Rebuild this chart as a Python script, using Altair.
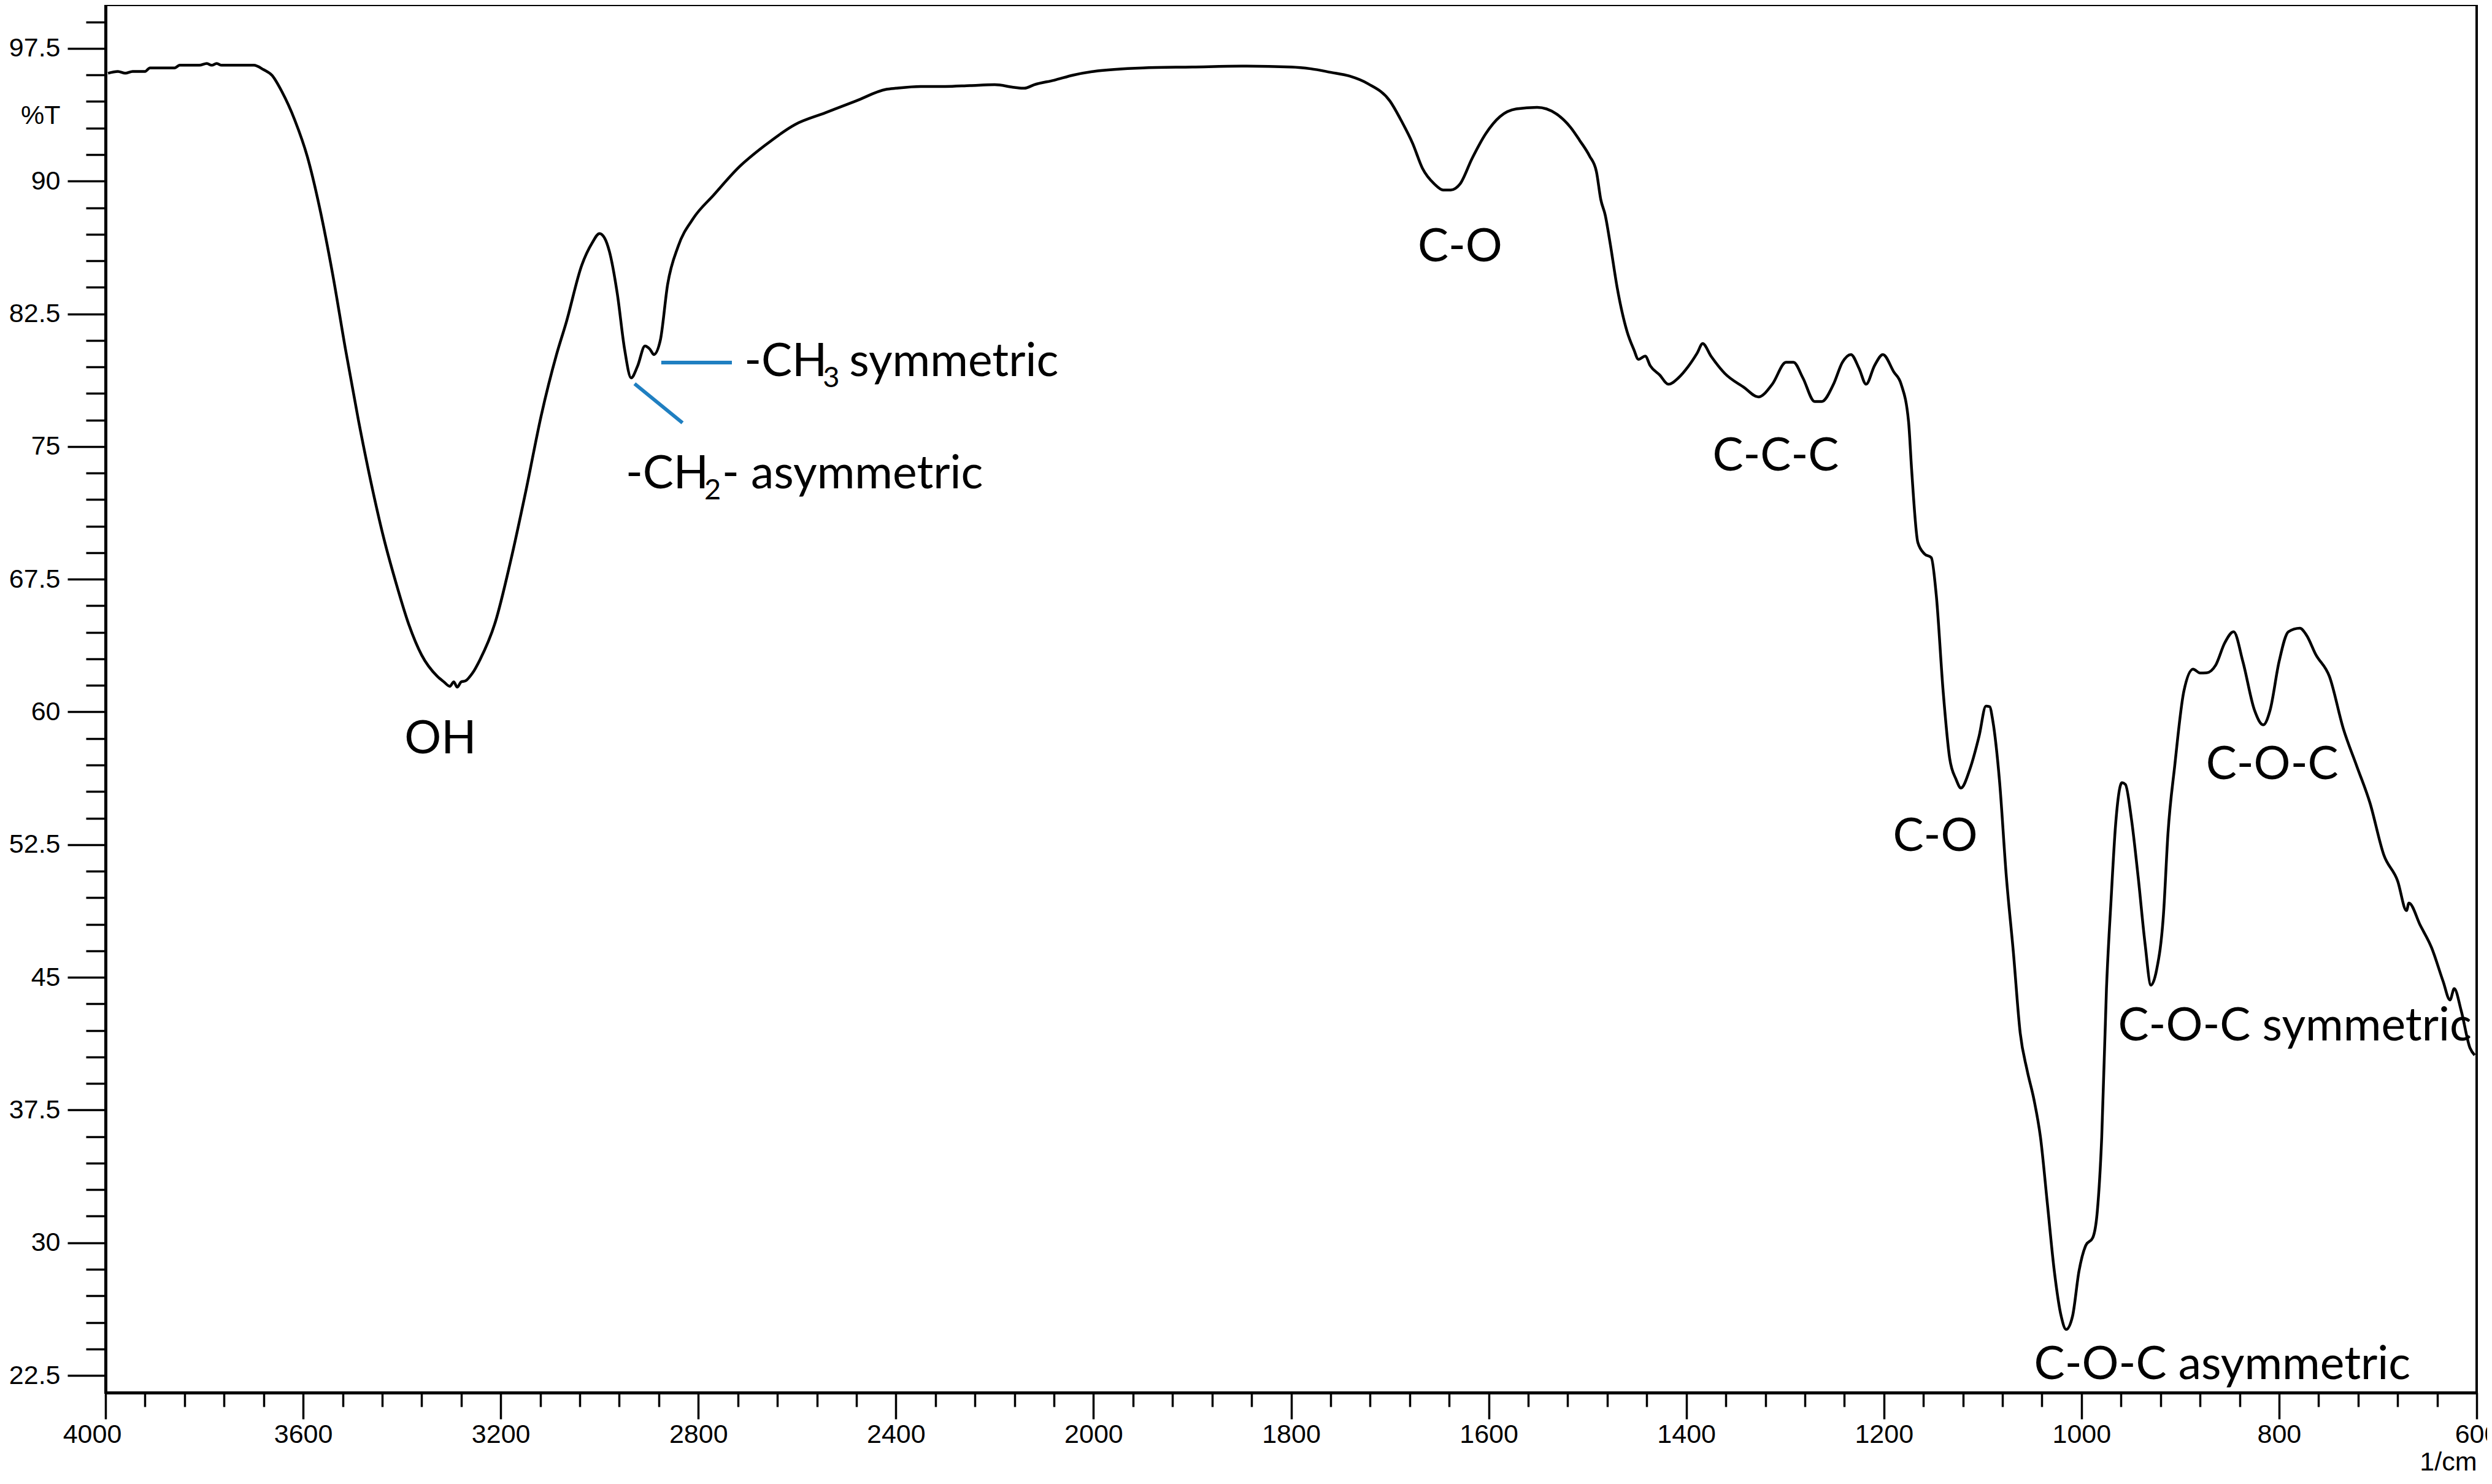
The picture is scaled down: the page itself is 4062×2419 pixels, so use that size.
import altair as alt
import pandas as pd

# ---------------- data ----------------
wavenumber = [
    3995, 3975, 3960, 3945, 3920, 3910, 3860, 3850, 3810, 3795, 3785, 3775, 3765, 3700, 3680,
    3663, 3643, 3617, 3591, 3566, 3540, 3514, 3488, 3463, 3437, 3411, 3386, 3360, 3329, 3315,
    3303, 3295, 3288, 3280, 3272, 3257, 3242, 3211, 3180, 3149, 3118, 3087, 3067, 3036, 3015,
    3000, 2990, 2980, 2964, 2949, 2936, 2923, 2908, 2898, 2890, 2877, 2862, 2841, 2810, 2769,
    2717, 2666, 2604, 2543, 2481, 2419, 2400, 2350, 2300, 2250, 2200, 2160, 2140, 2120, 2080,
    2040, 2000, 1950, 1900, 1850, 1800, 1780, 1760, 1741, 1722, 1700, 1688, 1677, 1667, 1655,
    1646, 1638.5, 1629, 1617, 1603, 1588.5, 1572, 1551, 1532, 1517, 1508, 1498, 1491, 1486.5, 1482,
    1477, 1470, 1460, 1453, 1448.5, 1441.5, 1436.5, 1427, 1418, 1408, 1398.5, 1389, 1383.4, 1375, 1361,
    1341.5, 1327, 1313, 1299, 1291.5, 1282, 1270, 1263, 1251, 1242, 1233.4, 1225, 1218, 1209.5, 1201,
    1190, 1182.5, 1175, 1172, 1165.6, 1159, 1152, 1147, 1140, 1133.4, 1127, 1122, 1113, 1103.6, 1096.7,
    1093, 1089.7, 1083, 1076, 1069, 1062, 1055, 1048, 1041.5, 1034.5, 1027.5, 1020.6, 1015.5, 1009, 1002.5,
    995.6, 988.6, 984, 979.5, 974.7, 970, 965.5, 959, 955.5, 949.6, 942.6, 935.6, 929.7, 924, 917,
    912.4, 905.6, 896.4, 887, 880, 873.4, 864.3, 855, 846, 836.6, 825, 816, 809, 800, 790.6,
    779, 772, 763, 749, 735, 721.5, 708, 694, 680, 671, 668.6, 657, 645.6, 634, 627,
    622.7, 615.6, 606.7, 602,
]
transmittance = [
    96.1, 96.2, 96.1, 96.2, 96.2, 96.4, 96.4, 96.55, 96.55, 96.65, 96.55, 96.65, 96.55, 96.55, 96.3,
    95.98, 95.06, 93.46, 91.34, 88.42, 84.71, 80.46, 76.48, 73.03, 69.85, 67.2, 64.94, 63.21, 62.03, 61.7,
    61.45, 61.7, 61.4, 61.7, 61.75, 62.2, 62.95, 65.07, 68.52, 72.5, 76.75, 80.2, 82.05, 85.24, 86.5,
    87.04, 86.8, 86.03, 83.64, 80.46, 78.88, 79.54, 80.68, 80.5, 80.2, 80.99, 84.18, 86.3, 87.9, 89.21,
    90.81, 92.0, 93.2, 93.86, 94.53, 95.19, 95.25, 95.35, 95.35, 95.4, 95.45, 95.3, 95.25, 95.45, 95.7,
    96.0, 96.2, 96.4, 96.45, 96.5, 96.45, 96.35, 96.15, 95.94, 95.5, 94.53, 93.37, 92.14, 90.72, 89.84,
    89.5, 89.5, 89.84, 91.26, 92.68, 93.65, 94.08, 94.17, 93.82, 93.03, 92.31, 91.43, 90.55, 88.95, 88.07,
    86.47, 84.0, 81.51, 80.47, 79.93, 80.11, 79.57, 79.05, 78.52, 78.88, 79.49, 80.28, 80.82, 80.11, 79.13,
    78.34, 77.8, 78.52, 79.76, 79.76, 78.88, 77.54, 77.54, 78.52, 79.76, 80.2, 79.4, 78.52, 79.57, 80.2,
    79.22, 78.52, 76.4, 73.77, 69.57, 68.94, 68.72, 66.62, 61.16, 57.38, 56.2, 55.7, 56.76, 58.64, 60.33,
    60.3, 59.48, 56.13, 50.66, 46.46, 41.85, 39.74, 38.07, 35.96, 32.2, 28.4, 25.86, 25.1, 25.86, 28.4,
    29.85, 30.28, 31.76, 35.96, 44.36, 49.41, 53.6, 56.0, 55.9, 54.02, 50.66, 46.88, 44.56, 45.41, 48.56,
    53.17, 56.96, 61.16, 62.42, 62.2, 62.21, 62.63, 63.9, 64.53, 62.84, 60.12, 59.27, 60.12, 62.84, 64.53,
    64.73, 64.32, 63.26, 62.0, 59.06, 56.96, 54.86, 51.92, 50.45, 48.77, 49.2, 47.93, 46.67, 44.78, 43.72,
    44.36, 43.1, 41.0, 40.6,
]

# plain annotations
label_text = ["OH", "C-O", "C-C-C", "C-O", "C-O-C", "C-O-C symmetric", "C-O-C asymmetric"]
label_wn = [3322, 1629, 1309.5, 1148, 807, 963, 1048]
label_T = [57.66, 85.45, 73.64, 52.13, 56.2, 41.42, 22.29]
label_align = ["center", "center", "center", "center", "center", "left", "left"]

# annotations with a subscript: main text, subscript, tail; anchored at their left end
sub_main = ["-CH", "-CH"]
sub_digit = ["3", "2"]
sub_tail = ["symmetric", "- asymmetric"]
sub_wn = [2707, 2947]
sub_T = [79.0, 72.65]

# blue leader lines (start / end)
lead_wn1 = [2875, 2929]
lead_T1 = [79.75, 78.55]
lead_wn2 = [2732, 2832]
lead_T2 = [79.75, 76.34]

x_tick_u = list(range(0, 4801, 80))
y_ticks = [round(22.5 + 1.5 * k, 2) for k in range(52)]


def to_u(v):
    # the spectrometer plot doubles the scale below 2000 1/cm
    return 4000 - v if v >= 2000 else 2000 + 2 * (2000 - v)


spec_df = pd.DataFrame({"wn": wavenumber, "T": transmittance})
spec_df["u"] = [to_u(v) for v in wavenumber]

lab_df = pd.DataFrame({"text": label_text, "T": label_T, "align": label_align,
                       "u": [to_u(v) for v in label_wn]})
sub_df = pd.DataFrame({"main": sub_main, "digit": sub_digit, "tail": sub_tail,
                       "T": sub_T, "u": [to_u(v) for v in sub_wn]})
lead_df = pd.DataFrame({"u": [to_u(v) for v in lead_wn1], "T": lead_T1,
                        "u2": [to_u(v) for v in lead_wn2], "T2": lead_T2})

W, H = 3865, 2262
X_DOMAIN = [0, 4800]
Y_DOMAIN = [21.53, 99.96]

AX_FONT = "Liberation Sans"
ANN_FONT = "Lato"
ANN_SIZE = 75

x_major = "datum.value % 400 === 0"
y_major = "abs((datum.value - 22.5) / 7.5 - round((datum.value - 22.5) / 7.5)) < 0.001"

x_scale = alt.Scale(domain=X_DOMAIN, nice=False, zero=False)
y_scale = alt.Scale(domain=Y_DOMAIN, nice=False, zero=False)

x_axis = alt.Axis(
    values=x_tick_u,
    labelExpr=(x_major + " ? (datum.value <= 2000 ? '' + (4000 - datum.value) : "
               "'' + (2000 - (datum.value - 2000) / 2)) : ''"),
    tickSize={"condition": {"test": x_major, "value": 43}, "value": 23},
    labelOffset={"condition": {"test": "datum.value === 0", "value": -22}, "value": 0},
    tickWidth=3.5, tickColor="black",
    domainColor="black", domainWidth=5,
    labelFont=AX_FONT, labelFontSize=43, labelColor="black", labelPadding=4,
    labelFlush=False, labelOverlap=False, grid=False,
    title="1/cm", titleFont=AX_FONT, titleFontSize=43, titleFontWeight="normal",
    titleColor="black", titleAnchor="end", titleAlign="right", titleBaseline="top",
    titleX=W, titleY=92,
)
y_axis = alt.Axis(
    values=y_ticks,
    labelExpr=y_major + " ? '' + datum.value : ''",
    tickSize={"condition": {"test": y_major, "value": 62}, "value": 32},
    tickWidth=3.5, tickColor="black",
    domainColor="black", domainWidth=5,
    labelFont=AX_FONT, labelFontSize=43, labelColor="black", labelPadding=12,
    labelOverlap=False, grid=False,
    title="%T", titleFont=AX_FONT, titleFontSize=43, titleFontWeight="normal",
    titleColor="black", titleAngle=0, titleAlign="right", titleBaseline="middle",
    titleX=-74, titleY=180,
)

line = alt.Chart(spec_df).mark_line(color="black", strokeWidth=4.5, interpolate="monotone").encode(
    x=alt.X("u:Q", scale=x_scale, axis=x_axis),
    y=alt.Y("T:Q", scale=y_scale, axis=y_axis),
)

leads = alt.Chart(lead_df).mark_rule(color="#1f7fc1", strokeWidth=6).encode(
    x=alt.X("u:Q", scale=x_scale), x2="u2:Q",
    y=alt.Y("T:Q", scale=y_scale), y2="T2:Q",
)

txt = dict(font=ANN_FONT, color="black", baseline="alphabetic")

center_lab = alt.Chart(lab_df).transform_filter("datum.align === 'center'").mark_text(
    fontSize=ANN_SIZE, align="center", **txt
).encode(x=alt.X("u:Q", scale=x_scale), y=alt.Y("T:Q", scale=y_scale), text="text:N")

left_lab = alt.Chart(lab_df).transform_filter("datum.align === 'left'").mark_text(
    fontSize=ANN_SIZE, align="left", **txt
).encode(x=alt.X("u:Q", scale=x_scale), y=alt.Y("T:Q", scale=y_scale), text="text:N")

sub_base = alt.Chart(sub_df).encode(x=alt.X("u:Q", scale=x_scale), y=alt.Y("T:Q", scale=y_scale))
sub_main_lab = sub_base.mark_text(fontSize=ANN_SIZE, align="left", **txt).encode(text="main:N")
sub_digit_lab = sub_base.mark_text(fontSize=47, align="left", dx=128, dy=18, **txt).encode(text="digit:N")
sub_tail_3 = alt.Chart(sub_df).transform_filter("datum.digit === '3'").mark_text(
    fontSize=ANN_SIZE, align="left", dx=171, **txt
).encode(x=alt.X("u:Q", scale=x_scale), y=alt.Y("T:Q", scale=y_scale), text="tail:N")
sub_tail_2 = alt.Chart(sub_df).transform_filter("datum.digit === '2'").mark_text(
    fontSize=ANN_SIZE, align="left", dx=157, **txt
).encode(x=alt.X("u:Q", scale=x_scale), y=alt.Y("T:Q", scale=y_scale), text="tail:N")

chart = alt.layer(
    line, leads, center_lab, left_lab, sub_main_lab, sub_digit_lab, sub_tail_3, sub_tail_2
).properties(
    width=W, height=H,
    autosize=alt.AutoSizeParams(type="none"),
    padding={"left": 164, "top": 0, "right": 17, "bottom": 133},
    background="white",
).configure_view(stroke="black", strokeWidth=4)

chart.save("out.html", embed_options={"renderer": "svg", "actions": False})
